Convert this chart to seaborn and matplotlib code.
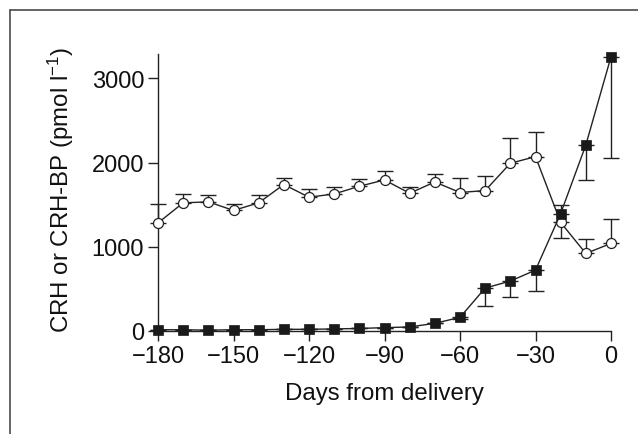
import numpy as np
import pandas as pd
import matplotlib
matplotlib.use('Agg')
import matplotlib.pyplot as plt
import seaborn as sns
from matplotlib.lines import Line2D

days = [-180, -170, -160, -150, -140, -130, -120, -110, -100, -90,
        -80, -70, -60, -50, -40, -30, -20, -10, 0]
crhbp = [1284, 1522, 1534, 1432, 1522, 1740, 1589, 1628, 1719, 1794,
         1636, 1770, 1645, 1668, 1992, 2071, 1289, 921, 1040]
crhbp_err = [222, 103, 79, 74, 91, 74, 95, 80, 83, 103,
             72, 95, 169, 170, 297, 289, 209, 174, 288]
crh = [15, 15, 10, 15, 15, 20, 20, 25, 30, 40,
       48, 91, 162, 510, 593, 723, 1395, 2209, 3257]
crh_err = [0, 0, 0, 0, 0, 0, 0, 0, 0, 0,
           0, 0, 20, 217, 193, 252, 296, 410, 1202]
xticks = [-180, -150, -120, -90, -60, -30, 0]
yticks = [0, 1000, 2000, 3000]

sns.set_style('ticks')
plt.rcParams['font.family'] = ['Liberation Sans', 'DejaVu Sans']
plt.rcParams['mathtext.fontset'] = 'custom'
plt.rcParams['mathtext.rm'] = 'Liberation Sans'
plt.rcParams['mathtext.it'] = 'Liberation Sans:italic'

df = pd.DataFrame({'day': days, 'crhbp': crhbp, 'crh': crh})

fig = plt.figure(figsize=(6.38, 4.35), dpi=100)
ax = fig.add_axes([158/638, 103/435, 453/638, 277/435])

# one-sided error bars
zeros = np.zeros(len(days))
ax.errorbar(days, crhbp, yerr=[zeros, crhbp_err], fmt='none', ecolor='#222222',
            elinewidth=1.0, capsize=5.5, capthick=1.0, zorder=2, clip_on=False)
ax.errorbar(days, crh, yerr=[crh_err, zeros], fmt='none', ecolor='#222222',
            elinewidth=1.0, capsize=5.5, capthick=1.0, zorder=3, clip_on=False)

sns.lineplot(data=df, x='day', y='crhbp', ax=ax, color='#222222', linewidth=1.0,
             marker='o', markersize=7.2, markerfacecolor='white',
             markeredgecolor='#222222', markeredgewidth=0.9, zorder=4, clip_on=False)
sns.lineplot(data=df, x='day', y='crh', ax=ax, color='#222222', linewidth=1.0,
             marker='s', markersize=7.4, markerfacecolor='#1a1a1a',
             markeredgecolor='#1a1a1a', markeredgewidth=0.5, zorder=5, clip_on=False)

ax.set_xlim(-180, 0)
ax.set_ylim(0, 3290)
ax.set_xticks(xticks)
ax.set_yticks(yticks)
sns.despine(ax=ax)
for s in ['left', 'bottom']:
    ax.spines[s].set_linewidth(1.0)
    ax.spines[s].set_color('#222222')
ax.tick_params(axis='both', length=7, width=1.0, color='#222222',
               labelsize=17, labelcolor='#111111', pad=3)
ax.set_xlabel('Days from delivery', fontsize=17.3, color='#111111', labelpad=11)
ax.set_ylabel('')
fig.text(61/638, 1 - 190/435, r'CRH or CRH-BP (pmol l$^{-1}$)', rotation=90,
         ha='center', va='center', fontsize=17.3, color='#111111')

# outer frame (top and left edges)
fig.add_artist(Line2D([10/638, 1.0], [1 - 10.5/435, 1 - 10.5/435],
                      transform=fig.transFigure, color='#4a4a4a', linewidth=1.2))
fig.add_artist(Line2D([10/638, 10/638], [0, 1 - 10.5/435],
                      transform=fig.transFigure, color='#4a4a4a', linewidth=1.2))

fig.savefig('out.png', dpi=100)
